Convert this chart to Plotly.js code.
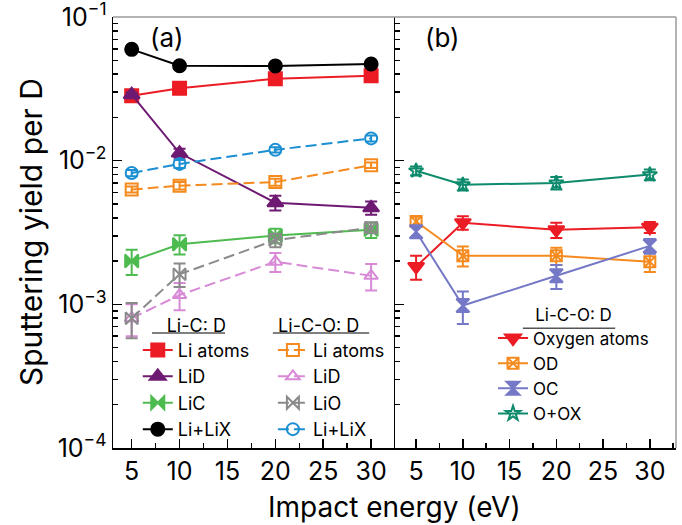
<!DOCTYPE html>
<html>
<head>
<meta charset="utf-8">
<script src="https://cdn.plot.ly/plotly-3.0.1.min.js"></script>
<style>html,body{margin:0;padding:0;background:#fff;}#chart{width:682px;height:525px;}</style>
</head>
<body>
<div id="chart"></div>
<script>
// Impact energy (eV)
const energy = [5, 10, 20, 30];
const energyTicks = [5, 10, 15, 20, 25, 30];
const yieldTicks = [1e-4, 1e-3, 1e-2, 1e-1];
const yieldTickText = ['10<sup>\u22124</sup>', '10<sup>\u22123</sup>', '10<sup>\u22122</sup>', '10<sup>\u22121</sup>'];

// Panel (a) Li-C: D
const liAtomsC = [0.0283, 0.0320, 0.0372, 0.0390];
const liAtomsCErr = [0.0008, 0.0010, 0.0012, 0.0015];
const liDC = [0.0288, 0.0113, 0.0051, 0.0047];
const liDCErr = [0.0010, 0.0008, 0.0006, 0.0005];
const liCC = [0.0020, 0.00262, 0.00301, 0.0033];
const liCCErr = [0.0004, 0.0004, 0.00035, 0.0004];
const liLiXC = [0.0596, 0.0458, 0.0457, 0.0471];
const liLiXCErr = [0.0010, 0.0010, 0.0010, 0.0010];

// Panel (a) Li-C-O: D
const liAtomsO = [0.0063, 0.0067, 0.0071, 0.0093];
const liAtomsOErr = [0.0003, 0.0004, 0.0004, 0.0004];
const liDO = [0.0008, 0.00116, 0.00198, 0.00158];
const liDOErr = [0.0002, 0.00025, 0.0003, 0.00033];
const liOO = [0.0008, 0.00162, 0.0028, 0.00342];
const liOOErr = [0.00022, 0.0003, 0.0003, 0.0003];
const liLiXO = [0.0082, 0.0095, 0.0119, 0.0143];
const liLiXOErr = [0.0004, 0.0006, 0.0005, 0.0007];

// Panel (b) Li-C-O: D
const oxygenAtoms = [0.00183, 0.0037, 0.0033, 0.00344];
const oxygenAtomsErr = [0.00035, 0.0004, 0.0004, 0.0003];
const oD = [0.00377, 0.00218, 0.00218, 0.00198];
const oDErr = [0.0003, 0.00035, 0.0003, 0.0003];
const oC = [0.0032, 0.00098, 0.00158, 0.00255];
const oCErr = [0.0003, 0.00025, 0.0003, 0.0003];
const oOX = [0.0085, 0.0068, 0.0070, 0.0080];
const oOXErr = [0.0006, 0.0006, 0.0007, 0.0007];

function tr(name, y, err, color, symbol, size, opts) {
  opts = opts || {};
  return {
    type: 'scatter', mode: 'lines+markers', name: name,
    x: energy, y: y,
    xaxis: opts.xaxis || 'x', yaxis: opts.yaxis || 'y',
    legend: opts.legend || 'legend',
    line: {color: color, width: 2, dash: opts.dash || 'solid'},
    marker: {color: color, symbol: symbol, size: size, line: {color: color, width: 2}},
    error_y: {type: 'data', array: err, visible: true, color: color, thickness: 2, width: 6},
    cliponaxis: false
  };
}

const DASH = '11px,5px';
const data = [
  tr('Li atoms', liAtomsC, liAtomsCErr, '#ec1c24', 'square', 13),
  tr('LiD', liDC, liDCErr, '#6e1a72', 'triangle-up', 14),
  tr('LiC', liCC, liCCErr, '#4dbb4f', 'bowtie', 13),
  tr('Li+LiX', liLiXC, liLiXCErr, '#000000', 'circle', 13),
  tr('Li atoms', liAtomsO, liAtomsOErr, '#f58a1f', 'square-open', 12, {legend: 'legend2', dash: DASH}),
  tr('LiD', liDO, liDOErr, '#d88ad6', 'triangle-up-open', 12, {legend: 'legend2', dash: DASH}),
  tr('LiO', liOO, liOOErr, '#8a8a8a', 'bowtie-open', 12, {legend: 'legend2', dash: DASH}),
  tr('Li+LiX', liLiXO, liLiXOErr, '#1b8fd2', 'circle-open', 12, {legend: 'legend2', dash: DASH}),
  tr('Oxygen atoms', oxygenAtoms, oxygenAtomsErr, '#ec1c24', 'triangle-down', 14, {legend: 'legend3', xaxis: 'x2', yaxis: 'y2'}),
  tr('OD', oD, oDErr, '#f58a1f', 'square-x-open', 11, {legend: 'legend3', xaxis: 'x2', yaxis: 'y2'}),
  tr('OC', oC, oCErr, '#7478c6', 'hourglass', 13, {legend: 'legend3', xaxis: 'x2', yaxis: 'y2'}),
  tr('O+OX', oOX, oOXErr, '#0e8a6c', 'star-open', 11, {legend: 'legend3', xaxis: 'x2', yaxis: 'y2'})
];

const FONT = 'Inter, "Liberation Sans", Arial, sans-serif';
const xCommon = {
  tickvals: energyTicks, ticks: 'inside', ticklen: 9, tickwidth: 1.5, tickcolor: '#000',
  minor: {ticks: 'inside', dtick: 2.5, tick0: 0, ticklen: 5, tickwidth: 1.5, tickcolor: '#000', showgrid: false},
  showline: true, linecolor: '#000', linewidth: 1.5, showgrid: false, zeroline: false,
  tickfont: {size: 25, color: '#000'}
};
const yCommon = {
  type: 'log', range: [-4.0005, -0.9995], tickvals: yieldTicks, ticktext: yieldTickText,
  ticklabeloverflow: 'allow',
  ticks: 'inside', ticklen: 9, tickwidth: 1.5, tickcolor: '#000',
  minor: {ticks: 'inside', dtick: 'D1', ticklen: 5, tickwidth: 1.5, tickcolor: '#000', showgrid: false},
  showline: true, linecolor: '#000', linewidth: 1.5, showgrid: false, zeroline: false,
  tickfont: {size: 25, color: '#000'}
};
const legCommon = {
  xanchor: 'left', yanchor: 'top', bgcolor: 'rgba(0,0,0,0)', borderwidth: 0,
  font: {size: 18, color: '#000', family: FONT}, tracegroupgap: 0, itemwidth: 30
};

const layout = {
  width: 682, height: 525,
  margin: {l: 113, r: 6, t: 17, b: 77},
  paper_bgcolor: '#fff', plot_bgcolor: '#fff',
  font: {family: FONT, color: '#000'},
  showlegend: true,
  xaxis: Object.assign({}, xCommon, {domain: [0, 0.501], range: [3.05, 32.5], anchor: 'y'}),
  xaxis2: Object.assign({}, xCommon, {domain: [0.501, 1], range: [2.75, 32.8], anchor: 'y2'}),
  yaxis: Object.assign({}, yCommon, {anchor: 'x'}),
  yaxis2: Object.assign({}, yCommon, {anchor: 'x2', showticklabels: false}),
  legend: Object.assign({}, legCommon, {x: 0.044, y: 0.324, title: {text: 'Li-C: D', side: 'top center', font: {size: 18}}}),
  legend2: Object.assign({}, legCommon, {x: 0.284, y: 0.324, title: {text: 'Li-C-O: D\u00a0\u00a0\u00a0\u00a0\u00a0', side: 'top center', font: {size: 18}}}),
  legend3: Object.assign({}, legCommon, {x: 0.675, y: 0.347, font: {size: 17, color: '#000', family: FONT}, title: {text: 'Li-C-O: D', side: 'top center', font: {size: 17}}}),
  annotations: [
    {text: 'Impact energy (eV)', xref: 'paper', yref: 'paper', x: 0.5, y: -0.137, xanchor: 'center', yanchor: 'middle', showarrow: false, font: {size: 28}},
    {text: 'Sputtering yield per D', xref: 'paper', yref: 'paper', x: -0.1456, y: 0.501, xanchor: 'center', yanchor: 'middle', textangle: -90, showarrow: false, font: {size: 30}},
    {text: '(a)', xref: 'paper', yref: 'paper', x: 0.096, y: 0.953, xanchor: 'center', yanchor: 'middle', showarrow: false, font: {size: 26}},
    {text: '(b)', xref: 'paper', yref: 'paper', x: 0.586, y: 0.953, xanchor: 'center', yanchor: 'middle', showarrow: false, font: {size: 26}}
  ],
  shapes: [
    {type: 'line', xref: 'paper', yref: 'paper', x0: 0, x1: 1, y0: 1, y1: 1, line: {color: '#9a9a9a', width: 1.5}},
    {type: 'line', xref: 'paper', yref: 'paper', x0: 1, x1: 1, y0: 0, y1: 1, line: {color: '#9a9a9a', width: 1.5}},
    {type: 'line', xref: 'paper', yref: 'paper', x0: 0.0693, x1: 0.199, y0: 0.267, y1: 0.267, line: {color: '#555', width: 1.5}},
    {type: 'line', xref: 'paper', yref: 'paper', x0: 0.284, x1: 0.455, y0: 0.267, y1: 0.267, line: {color: '#555', width: 1.5}},
    {type: 'line', xref: 'paper', yref: 'paper', x0: 0.728, x1: 0.892, y0: 0.278, y1: 0.278, line: {color: '#555', width: 1.5}}
  ]
};

Plotly.newPlot('chart', data, layout, {staticPlot: true, displayModeBar: false});
</script>
</body>
</html>
